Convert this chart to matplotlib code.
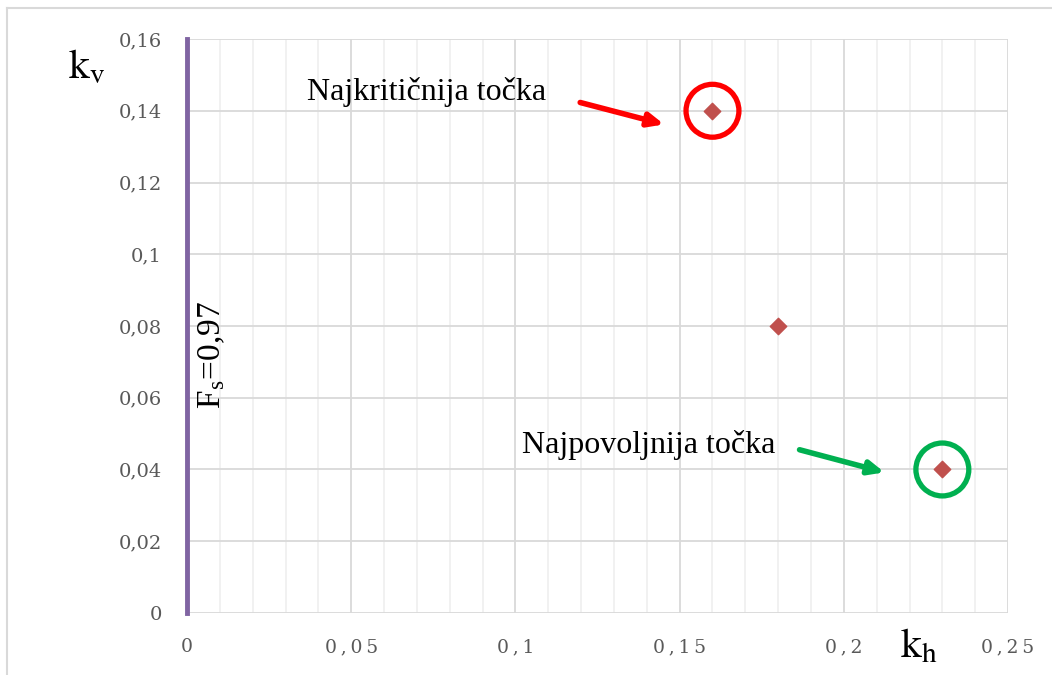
import matplotlib.pyplot as plt
from matplotlib.ticker import MultipleLocator, FuncFormatter
from matplotlib.lines import Line2D

plt.rcParams['mathtext.fontset'] = 'stix'

# Données
kh = [0.16, 0.18, 0.23]
kv = [0.14, 0.08, 0.04]
fs_label = 'F$_\\mathregular{s}$=0,97'
critical = (0.16, 0.14)
favourable = (0.23, 0.04)

fig = plt.figure(figsize=(10.52, 6.75), dpi=100)
ax = fig.add_axes([0.1778, 0.0919, 0.7804, 0.8503])

# Cadre extérieur (seuls les bords haut et gauche sont visibles)
fig.lines.append(Line2D([6.5 / 1052, 6.5 / 1052], [0, 1 - 8 / 675],
                        transform=fig.transFigure, color='#d9d9d9', linewidth=1.5))
fig.lines.append(Line2D([6.5 / 1052, 1], [1 - 8 / 675, 1 - 8 / 675],
                        transform=fig.transFigure, color='#d9d9d9', linewidth=1.5))

ax.set_xlim(0, 0.25)
ax.set_ylim(0, 0.16)
ax.xaxis.set_major_locator(MultipleLocator(0.05))
ax.xaxis.set_minor_locator(MultipleLocator(0.01))
ax.yaxis.set_major_locator(MultipleLocator(0.02))

def fmt_x(v, pos):
    s = ('%.2f' % v).rstrip('0').rstrip('.').replace('.', ',')
    return '\u2009'.join(s)

def fmt_y(v, pos):
    return ('%.2f' % v).rstrip('0').rstrip('.').replace('.', ',')

ax.xaxis.set_major_formatter(FuncFormatter(fmt_x))
ax.yaxis.set_major_formatter(FuncFormatter(fmt_y))

ax.grid(which='major', color='#d9d9d9', linewidth=1.3)
ax.grid(which='minor', axis='x', color='#f0f0f0', linewidth=1.3)
ax.set_axisbelow(True)
for s in ax.spines.values():
    s.set_visible(False)
ax.tick_params(which='both', length=0)
ax.tick_params(axis='y', pad=18, labelsize=14, labelcolor='#595959')
ax.tick_params(axis='x', pad=18, labelsize=13.5, labelcolor='#595959')
for lab in ax.get_xticklabels() + ax.get_yticklabels():
    lab.set_family('DejaVu Serif')

# Ligne Fs
ax.plot([0, 0], [0, 0.16], color='#8064a2', linewidth=3.5, clip_on=False, zorder=3)
ax.text(0.0076, 0.0719, fs_label, rotation=90, ha='center', va='center',
        fontsize=24, family='Liberation Serif')

# Points
ax.scatter(kh, kv, marker='D', s=70, color='#c0504d', zorder=4)

# Cercles et flèches
ax.scatter([critical[0]], [critical[1]], marker='o', s=1450, facecolor='none',
           edgecolor='#ff0000', linewidth=3.8, zorder=4)
ax.scatter([favourable[0]], [favourable[1]], marker='o', s=1450, facecolor='none',
           edgecolor='#00b050', linewidth=3.8, zorder=4)

ax.annotate('', xy=(0.1461, 0.136), xytext=(0.1189, 0.1425),
            arrowprops=dict(arrowstyle='-|>,head_length=0.9,head_width=0.4',
                            color='#ff0000', linewidth=4))
ax.annotate('', xy=(0.2132, 0.0390), xytext=(0.1857, 0.0457),
            arrowprops=dict(arrowstyle='-|>,head_length=0.9,head_width=0.4',
                            color='#00b050', linewidth=4))

ax.text(0.0366, 0.143, 'Najkritičnija točka', ha='left', va='baseline',
        fontsize=23, family='Liberation Serif')
ax.text(0.1019, 0.0446, 'Najpovoljnija točka', ha='left', va='baseline',
        fontsize=23, family='Liberation Serif')

# Étiquettes des axes
fig.text(68 / 1052, 1 - 78 / 675, '$\\mathrm{k_v}$', fontsize=30, ha='left', va='baseline')
fig.text(900 / 1052, 1 - 657 / 675, '$\\mathrm{k_h}$', fontsize=30, ha='left', va='baseline')

fig.savefig('out.png', dpi=100)
